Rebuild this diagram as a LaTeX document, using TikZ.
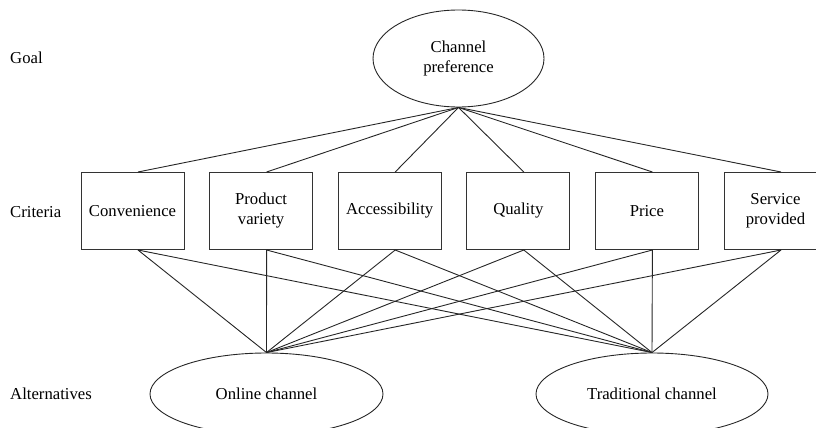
\documentclass[tikz,border=0pt]{standalone}
\usepackage{fontspec}
\setmainfont{Liberation Serif}
\usetikzlibrary{shapes.geometric}
\begin{document}
\begin{tikzpicture}[x=1pt,y=-1pt,
  every node/.style={font=\fontsize{16.7}{20}\selectfont, text=black},
  link/.style={draw=black!85, line width=0.9pt},
  crit/.style={draw=black!80, line width=1pt, rectangle, minimum width=103pt,
               minimum height=77pt, inner sep=0pt, align=center},
  oval/.style={draw=black!85, line width=0.9pt, ellipse, inner sep=0pt, align=center},
  level/.style={anchor=west, inner sep=0pt}]
\clip (0,0) rectangle (816,428);

% row labels
\node[level] (lg) at (10,58) {Goal};
\node[level] (lc) at (10,212) {Criteria};
\node[level] (la) at (10,394) {Alternatives};

% goal
\node[oval, minimum width=171pt, minimum height=97pt] (goal) at (458.5,58.5) {Channel\\preference};

% criteria
\node[crit] (c1) at (132.5,211) {Convenience};
\node[crit] (c2) at (261.1,211) {Product\\variety};
\node[crit] (c3) at (389.7,211) {Accessibility};
\node[crit] (c4) at (518.3,211) {Quality};
\node[crit] (c5) at (646.9,211) {Price};
\node[crit] (c6) at (775.5,211) {Service\\provided};

% alternatives
\node[oval, minimum width=233pt, minimum height=82pt] (on) at (266.5,394) {Online channel};
\node[oval, minimum width=232pt, minimum height=82pt] (tr) at (652,394) {Traditional channel};

% goal to criteria
\foreach \c in {c1,c2,c3,c4,c5,c6}
  \draw[link] (goal.south) -- ([xshift=5.5pt]\c.north);

% criteria to alternatives
\foreach \c in {c1,c2,c3,c4,c5,c6} {
  \draw[link] ([xshift=5.5pt]\c.south) -- (on.north);
  \draw[link] ([xshift=5.5pt]\c.south) -- (tr.north);
}
\end{tikzpicture}
\end{document}
